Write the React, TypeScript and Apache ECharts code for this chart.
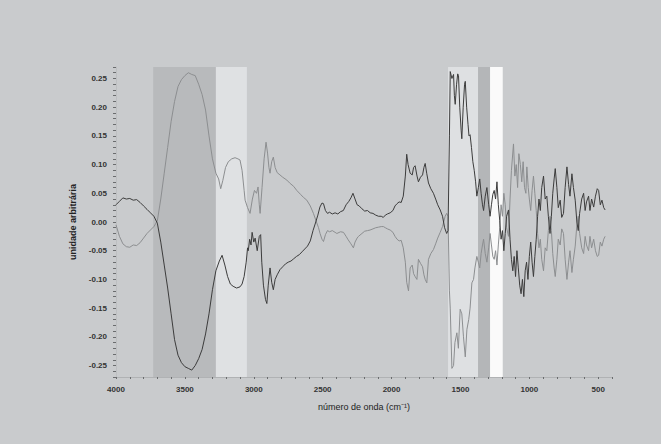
import React, { useEffect, useRef } from "react";
import * as echarts from "echarts";

// [wavenumber (cm-1), value]
const darkLine: [number, number][] = [
  [4000, 0.030], [3975, 0.036], [3950, 0.042], [3925, 0.040], [3900, 0.041], [3875, 0.038],
  [3850, 0.039], [3825, 0.034], [3800, 0.028], [3775, 0.022], [3750, 0.016], [3725, 0.010],
  [3700, -0.002], [3675, -0.035], [3650, -0.075], [3625, -0.115], [3600, -0.160], [3575, -0.205],
  [3550, -0.232], [3525, -0.245], [3500, -0.252], [3475, -0.255], [3450, -0.258], [3425, -0.250],
  [3400, -0.238], [3375, -0.222], [3350, -0.195], [3325, -0.160], [3300, -0.118], [3275, -0.085],
  [3250, -0.068], [3230, -0.058], [3210, -0.075], [3190, -0.095], [3170, -0.108], [3150, -0.112],
  [3125, -0.115], [3100, -0.113], [3085, -0.108], [3070, -0.095], [3055, -0.070], [3045, -0.045],
  [3040, -0.050], [3030, -0.030], [3020, -0.040], [3012, -0.018], [3000, -0.035], [2990, -0.028],
  [2975, -0.050], [2960, -0.025], [2950, -0.022], [2942, -0.070], [2930, -0.110], [2915, -0.135],
  [2905, -0.142], [2895, -0.110], [2882, -0.080], [2870, -0.105], [2858, -0.118], [2845, -0.100],
  [2830, -0.092], [2810, -0.083], [2790, -0.078], [2770, -0.073], [2750, -0.070], [2730, -0.068],
  [2710, -0.064], [2690, -0.060], [2670, -0.057], [2650, -0.052], [2630, -0.047], [2610, -0.042],
  [2590, -0.033], [2570, -0.015], [2550, 0.000], [2535, 0.012], [2520, 0.026], [2505, 0.033],
  [2494, 0.032], [2480, 0.020], [2465, 0.015], [2450, 0.017], [2430, 0.014], [2410, 0.016],
  [2390, 0.014], [2370, 0.018], [2350, 0.020], [2330, 0.030], [2310, 0.036], [2295, 0.042],
  [2280, 0.050], [2265, 0.040], [2250, 0.030], [2235, 0.028], [2215, 0.023], [2195, 0.019],
  [2175, 0.020], [2155, 0.016], [2135, 0.015], [2115, 0.012], [2095, 0.010], [2075, 0.010],
  [2060, 0.008], [2045, 0.012], [2030, 0.014], [2010, 0.016], [1990, 0.020], [1975, 0.028],
  [1960, 0.032], [1945, 0.035], [1930, 0.034], [1915, 0.045], [1900, 0.080], [1890, 0.118],
  [1880, 0.100], [1865, 0.085], [1850, 0.082], [1840, 0.095], [1829, 0.098], [1815, 0.080],
  [1805, 0.070], [1790, 0.078], [1775, 0.082], [1765, 0.095], [1756, 0.102], [1745, 0.085],
  [1732, 0.068], [1715, 0.058], [1696, 0.050], [1680, 0.040], [1665, 0.030], [1647, 0.021],
  [1630, 0.010], [1615, -0.010], [1600, -0.020], [1590, -0.015], [1580, 0.150], [1574, 0.262],
  [1562, 0.250], [1550, 0.257], [1544, 0.220], [1538, 0.205], [1528, 0.240], [1520, 0.258],
  [1514, 0.255], [1505, 0.200], [1495, 0.160], [1490, 0.145], [1480, 0.200], [1470, 0.240],
  [1465, 0.245], [1455, 0.200], [1445, 0.170], [1438, 0.150], [1430, 0.152], [1420, 0.130],
  [1410, 0.105], [1400, 0.090], [1390, 0.070], [1381, 0.045], [1370, 0.060], [1360, 0.075],
  [1350, 0.050], [1340, 0.030], [1332, 0.020], [1320, 0.045], [1308, 0.060], [1295, 0.030],
  [1285, 0.010], [1275, 0.030], [1265, 0.048], [1255, 0.055], [1245, 0.040], [1235, 0.070],
  [1225, 0.030], [1215, 0.003], [1205, -0.030], [1195, -0.015], [1185, -0.050], [1175, -0.020],
  [1165, 0.010], [1151, 0.021], [1140, -0.030], [1130, -0.065], [1120, -0.085], [1110, -0.060],
  [1100, -0.095], [1090, -0.050], [1080, -0.080], [1070, -0.110], [1060, -0.125], [1050, -0.100],
  [1040, -0.130], [1030, -0.085], [1020, -0.070], [1010, -0.100], [1000, -0.060], [990, -0.035],
  [980, -0.070], [970, -0.095], [960, -0.060], [950, -0.030], [940, 0.010], [930, 0.040],
  [920, 0.020], [910, 0.060], [897, 0.080], [885, 0.040], [873, 0.045], [862, 0.010],
  [850, -0.020], [840, 0.010], [830, 0.050], [820, 0.075], [812, 0.093], [800, 0.060],
  [790, 0.025], [776, 0.038], [765, 0.008], [752, 0.015], [740, 0.060], [727, 0.096],
  [715, 0.065], [705, 0.045], [691, 0.084], [680, 0.060], [667, 0.038], [655, 0.000],
  [645, -0.015], [635, 0.015], [620, 0.040], [606, 0.050], [595, 0.020], [585, 0.035],
  [570, 0.045], [560, 0.020], [548, 0.040], [533, 0.026], [520, 0.045], [507, 0.058],
  [497, 0.055], [485, 0.030], [473, 0.038], [460, 0.025], [450, 0.021],
];

const lightLine: [number, number][] = [
  [4000, -0.005], [3975, -0.025], [3950, -0.038], [3925, -0.043], [3900, -0.044], [3875, -0.040],
  [3850, -0.041], [3825, -0.036], [3800, -0.028], [3775, -0.020], [3750, -0.014], [3725, -0.008],
  [3700, 0.002], [3675, 0.040], [3650, 0.085], [3625, 0.130], [3600, 0.175], [3575, 0.210],
  [3550, 0.236], [3525, 0.248], [3500, 0.255], [3475, 0.260], [3450, 0.257], [3425, 0.255],
  [3400, 0.240], [3375, 0.222], [3350, 0.195], [3325, 0.150], [3300, 0.110], [3275, 0.085],
  [3255, 0.075], [3240, 0.058], [3225, 0.072], [3205, 0.095], [3185, 0.105], [3160, 0.110],
  [3136, 0.112], [3115, 0.110], [3100, 0.108], [3085, 0.090], [3070, 0.055], [3063, 0.038],
  [3045, 0.025], [3027, 0.015], [3010, 0.040], [2995, 0.055], [2980, 0.050], [2969, 0.061],
  [2960, 0.030], [2954, 0.015], [2940, 0.060], [2925, 0.110], [2911, 0.139], [2900, 0.120],
  [2890, 0.095], [2882, 0.085], [2870, 0.105], [2858, 0.113], [2845, 0.095], [2830, 0.086],
  [2810, 0.082], [2790, 0.078], [2760, 0.073], [2740, 0.068], [2710, 0.062], [2688, 0.055],
  [2660, 0.048], [2640, 0.043], [2615, 0.038], [2590, 0.028], [2567, 0.015], [2545, 0.000],
  [2530, -0.010], [2519, -0.020], [2505, -0.030], [2494, -0.034], [2480, -0.022], [2465, -0.015],
  [2450, -0.017], [2430, -0.015], [2410, -0.018], [2397, -0.020], [2370, -0.017], [2349, -0.018],
  [2330, -0.025], [2315, -0.031], [2295, -0.038], [2277, -0.045], [2265, -0.035], [2250, -0.028],
  [2240, -0.025], [2215, -0.020], [2195, -0.016], [2175, -0.015], [2156, -0.014], [2135, -0.012],
  [2115, -0.010], [2095, -0.009], [2075, -0.008], [2059, -0.008], [2045, -0.010], [2030, -0.012],
  [2010, -0.014], [1990, -0.018], [1975, -0.025], [1960, -0.030], [1945, -0.033], [1930, -0.032],
  [1915, -0.045], [1900, -0.070], [1890, -0.105], [1877, -0.120], [1865, -0.080], [1850, -0.075],
  [1840, -0.090], [1829, -0.095], [1816, -0.100], [1805, -0.065], [1790, -0.072], [1775, -0.078],
  [1765, -0.092], [1756, -0.100], [1744, -0.106], [1732, -0.065], [1715, -0.055], [1696, -0.048],
  [1680, -0.038], [1665, -0.028], [1647, -0.018], [1630, -0.008], [1611, 0.010], [1600, 0.015],
  [1590, 0.010], [1580, -0.120], [1574, -0.150], [1562, -0.255], [1550, -0.250], [1540, -0.210],
  [1526, -0.193], [1515, -0.220], [1502, -0.152], [1490, -0.160], [1478, -0.200], [1465, -0.235],
  [1453, -0.187], [1440, -0.170], [1430, -0.150], [1417, -0.106], [1405, -0.100], [1395, -0.080],
  [1381, -0.060], [1370, -0.070], [1360, -0.080], [1350, -0.055], [1340, -0.040], [1332, -0.030],
  [1320, -0.055], [1308, -0.070], [1295, -0.045], [1285, -0.020], [1275, -0.040], [1265, -0.060],
  [1255, -0.065], [1245, -0.050], [1235, -0.075], [1225, -0.040], [1215, -0.010], [1205, 0.030],
  [1195, 0.010], [1185, 0.050], [1175, 0.030], [1165, -0.010], [1151, -0.025], [1140, 0.040],
  [1130, 0.090], [1115, 0.136], [1105, 0.080], [1095, 0.100], [1085, 0.060], [1076, 0.119],
  [1065, 0.100], [1055, 0.070], [1045, 0.105], [1035, 0.060], [1025, 0.050], [1018, 0.096],
  [1008, 0.060], [1000, 0.040], [990, 0.020], [980, 0.055], [970, 0.080], [960, 0.050],
  [950, 0.020], [940, -0.020], [930, -0.045], [920, -0.030], [910, -0.065], [897, -0.085],
  [885, -0.045], [873, -0.050], [862, -0.015], [850, 0.010], [840, -0.015], [830, -0.055],
  [820, -0.080], [812, -0.095], [800, -0.065], [790, -0.030], [776, -0.040], [765, -0.012],
  [752, -0.020], [740, -0.065], [727, -0.100], [715, -0.070], [705, -0.050], [691, -0.088],
  [680, -0.065], [667, -0.042], [655, -0.005], [645, 0.010], [635, -0.020], [620, -0.045],
  [606, -0.055], [595, -0.025], [585, -0.040], [570, -0.050], [560, -0.025], [548, -0.045],
  [533, -0.030], [520, -0.050], [507, -0.060], [497, -0.058], [485, -0.035], [473, -0.042],
  [460, -0.030], [450, -0.025],
];

// shaded wavenumber bands [from, to]
const bandRanges: [number, number][] = [
  [3730, 3275],
  [3275, 3050],
  [1590, 1372],
  [1372, 1285],
  [1285, 1193],
];
const bandColors = ["#b8babc", "#dfe1e3", "#dee0e2", "#b4b6b8", "#fafafa"];

const xTickLabels = [4000, 3500, 3000, 2500, 2000, 1500, 1000, 500];
const yTickLabels = [-0.25, -0.2, -0.15, -0.1, -0.05, 0, 0.05, 0.1, 0.15, 0.2, 0.25];

export default function App() {
  const ref = useRef<HTMLDivElement>(null);
  useEffect(() => {
    if (!ref.current) return;
    const chart = echarts.init(ref.current, null, { renderer: "svg" });
    const font = "'Liberation Sans', Arial, sans-serif";
    chart.setOption({
      animation: false,
      backgroundColor: "#c9cbcd",
      grid: { left: 116, right: 49, top: 67, bottom: 67 },
      xAxis: {
        type: "value",
        min: 400,
        max: 4000,
        interval: 100,
        inverse: true,
        splitLine: { show: false },
        axisLine: { show: true, onZero: false, lineStyle: { color: "#b0b2b4", width: 1 } },
        axisTick: { show: true, length: 2, lineStyle: { color: "#6a6c6e" } },
        axisLabel: {
          interval: 0,
          margin: 8,
          fontSize: 8,
          fontWeight: "bold",
          color: "#333",
          fontFamily: font,
          formatter: (v: number) => (xTickLabels.includes(Math.round(v)) ? String(Math.round(v)) : ""),
        },
        name: "número de onda (cm⁻¹)",
        nameLocation: "middle",
        nameGap: 25,
        nameTextStyle: { fontSize: 9, color: "#222", fontFamily: font },
      },
      yAxis: {
        type: "value",
        min: -0.27,
        max: 0.27,
        interval: 0.01,
        splitLine: { show: false },
        axisLine: { show: true, lineStyle: { color: "#bdbfc1", width: 1 } },
        axisTick: { show: true, length: 3, lineStyle: { color: "#6a6c6e" } },
        axisLabel: {
          interval: 0,
          margin: 9,
          fontSize: 8,
          fontWeight: "bold",
          color: "#333",
          fontFamily: font,
          formatter: (v: number) => {
            const r = Math.round(v * 100) / 100;
            return yTickLabels.some((t) => Math.abs(t - r) < 1e-6) ? r.toFixed(2) : "";
          },
        },
        name: "unidade arbitrária",
        nameLocation: "middle",
        nameGap: 31,
        nameTextStyle: { fontSize: 9, fontWeight: "bold", color: "#222", fontFamily: font },
      },
      series: [
        {
          type: "line",
          data: lightLine,
          showSymbol: false,
          silent: true,
          lineStyle: { color: "#8c8e90", width: 1 },
          markArea: {
            silent: true,
            data: bandRanges.map(([a, b], i) => [
              { xAxis: a, itemStyle: { color: bandColors[i], opacity: 1 } },
              { xAxis: b },
            ]),
          },
        },
        {
          type: "line",
          data: darkLine,
          showSymbol: false,
          silent: true,
          lineStyle: { color: "#3c3c3c", width: 1 },
        },
      ],
    });
    return () => chart.dispose();
  }, []);
  return (
    <div
      ref={ref}
      style={{ position: "absolute", left: 0, top: 0, width: 661, height: 444 }}
    />
  );
}
